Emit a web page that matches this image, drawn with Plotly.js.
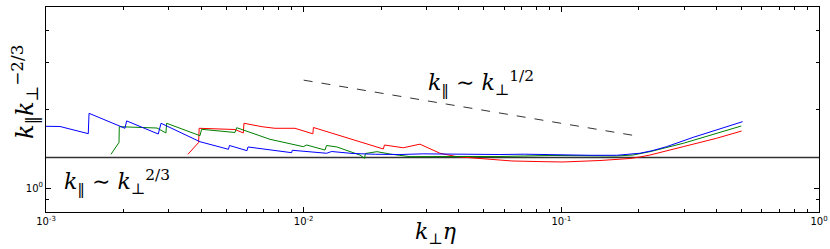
<!DOCTYPE html>
<html>
<head>
<meta charset="utf-8">
<script src="https://cdn.plot.ly/plotly-3.0.1.min.js"></script>
<style>html,body{margin:0;padding:0;background:#fff;}#chart{width:830px;height:249px;}</style>
</head>
<body>
<div id="chart"></div>
<script>
// ---- data ----
const blueX = [1.0e-3, 1.133e-3, 1.459e-3, 1.469e-3, 2.025e-3, 2.056e-3, 2.727e-3, 2.795e-3, 3.958e-3, 5.107e-3, 5.152e-3, 6.026e-3, 6.080e-3, 8.982e-3, 9.030e-3, 1.106e-2, 1.228e-2, 1.284e-2, 1.553e-2, 1.9e-2, 2.363e-2, 2.9e-2, 3.695e-2, 4.6e-2, 5.777e-2, 7.2e-2, 9.03e-2, 0.1291, 0.1639, 0.1813, 0.2018, 0.2267, 0.2563, 0.3249, 0.4005, 0.5052];
const blueY = [1.720, 1.717, 1.612, 1.928, 1.690, 1.803, 1.607, 1.766, 1.502, 1.405, 1.453, 1.388, 1.434, 1.364, 1.393, 1.369, 1.357, 1.378, 1.354, 1.345, 1.342, 1.350, 1.348, 1.340, 1.342, 1.346, 1.340, 1.333, 1.333, 1.342, 1.357, 1.390, 1.438, 1.561, 1.665, 1.791];

const greenX = [1.788e-3, 1.920e-3, 1.925e-3, 2.696e-3, 2.921e-3, 2.939e-3, 3.958e-3, 4.019e-3, 5.413e-3, 5.495e-3, 7.401e-3, 9.964e-3, 1.027e-2, 1.210e-2, 1.226e-2, 1.346e-2, 1.654e-2, 1.722e-2, 1.737e-2, 1.925e-2, 2.163e-2, 2.586e-2, 3.695e-2, 5.777e-2, 9.03e-2, 0.1639, 0.1896, 0.2207, 0.2972, 0.4005, 0.4990];
const greenY = [1.345, 1.492, 1.714, 1.694, 1.622, 1.766, 1.584, 1.675, 1.629, 1.699, 1.534, 1.438, 1.459, 1.396, 1.453, 1.434, 1.336, 1.298, 1.354, 1.376, 1.348, 1.317, 1.319, 1.319, 1.331, 1.325, 1.336, 1.376, 1.481, 1.618, 1.724];

const redX = [3.556e-3, 3.912e-3, 3.930e-3, 5.413e-3, 5.829e-3, 5.866e-3, 6.888e-3, 7.736e-3, 9.251e-3, 1.086e-2, 1.091e-2, 2.037e-2, 2.059e-2, 2.434e-2, 2.827e-2, 3.380e-2, 3.924e-2, 4.746e-2, 5.526e-2, 6.430e-2, 8.639e-2, 0.1014, 0.1412, 0.1846, 0.2018, 0.2207, 0.2972, 0.4005, 0.5008];
const redY = [1.345, 1.492, 1.690, 1.672, 1.622, 1.766, 1.714, 1.690, 1.690, 1.610, 1.702, 1.409, 1.459, 1.424, 1.470, 1.357, 1.317, 1.298, 1.279, 1.268, 1.260, 1.257, 1.273, 1.296, 1.313, 1.336, 1.438, 1.548, 1.650];

const flatX = [1e-3, 1];
const flatY = [1.307, 1.307];

const dashX = [0.01, 0.2];
const dashY = [2.58, 1.575];

const xMajorVals = [0.001, 0.01, 0.1, 1];
const xMajorText = ['10<sup>-3</sup>', '10<sup>-2</sup>', '10<sup>-1</sup>', '10<sup>0</sup>'];
const xMinorVals = [0.002,0.003,0.004,0.005,0.006,0.007,0.008,0.009,
                    0.02,0.03,0.04,0.05,0.06,0.07,0.08,0.09,
                    0.2,0.3,0.4,0.5,0.6,0.7,0.8,0.9];
const yMajorVals = [1];
const yMajorText = ['10<sup>0</sup>'];
const yMinorVals = [0.9, 2, 3, 4];

// ---- chart ----
const mk = (x, y, color, width, dash) => ({
  x: x, y: y, type: 'scatter', mode: 'lines',
  line: {color: color, width: width, dash: dash || 'solid'},
  hoverinfo: 'skip', showlegend: false
});

const traces = [
  mk(flatX, flatY, '#333333', 1.6),
  mk(dashX, dashY, '#333333', 1, 'dash'),
  mk(redX, redY, '#ff0000', 1),
  mk(greenX, greenY, '#008000', 1),
  mk(blueX, blueY, '#0000ff', 1)
];

const mathFont = {family: 'DejaVu Serif, serif', size: 22, color: '#000'};
const tickFont = {family: 'DejaVu Sans, sans-serif', size: 10, color: '#000'};

const axisCommon = {
  type: 'log', tickmode: 'array',
  ticks: 'inside', ticklen: 5, tickcolor: '#000', tickwidth: 1,
  mirror: 'allticks', showline: true, linecolor: '#000', linewidth: 1,
  showgrid: false, zeroline: false, tickfont: tickFont
};

const layout = {
  width: 830, height: 249,
  margin: {l: 46, r: 11, t: 7, b: 37},
  paper_bgcolor: '#fff', plot_bgcolor: '#fff',
  showlegend: false,
  xaxis: Object.assign({}, axisCommon, {
    range: [-3, 0], tickvals: xMajorVals, ticktext: xMajorText,
    minor: {tickmode: 'array', tickvals: xMinorVals, ticks: 'inside', ticklen: 3, tickcolor: '#000', tickwidth: 1, showgrid: false}
  }),
  yaxis: Object.assign({}, axisCommon, {
    range: [-0.0916, 0.6908], tickvals: yMajorVals, ticktext: yMajorText,
    minor: {tickmode: 'array', tickvals: yMinorVals, ticks: 'inside', ticklen: 3, tickcolor: '#000', tickwidth: 1, showgrid: false}
  }),
  annotations: [
    {xref: 'paper', yref: 'paper', x: 0.0918, y: 0.146, xanchor: 'center', yanchor: 'middle',
     showarrow: false, font: mathFont,
     text: '<i>k</i><sub>‖</sub> ∼ <i>k</i><sub>⊥</sub><sup>2/3</sup>'},
    {xref: 'paper', yref: 'paper', x: 0.563, y: 0.629, xanchor: 'center', yanchor: 'middle',
     showarrow: false, font: mathFont,
     text: '<i>k</i><sub>‖</sub> ∼ <i>k</i><sub>⊥</sub><sup>1/2</sup>'},
    {xref: 'paper', yref: 'paper', x: -0.0285, y: 0.585, xanchor: 'center', yanchor: 'middle',
     textangle: -90, showarrow: false, font: {family: 'DejaVu Serif, serif', size: 24, color: '#000'},
     text: '<i>k</i><sub>‖</sub><i>k</i><sub>⊥</sub><sup>−2/3</sup>'},
    {xref: 'paper', yref: 'paper', x: 0.5045, y: -0.107, xanchor: 'center', yanchor: 'middle',
     showarrow: false, font: {family: 'DejaVu Serif, serif', size: 22, color: '#000'},
     text: '<i>k</i><sub>⊥</sub><i>η</i>'}
  ]
};

Plotly.newPlot('chart', traces, layout, {staticPlot: true, displayModeBar: false});
</script>
</body>
</html>
